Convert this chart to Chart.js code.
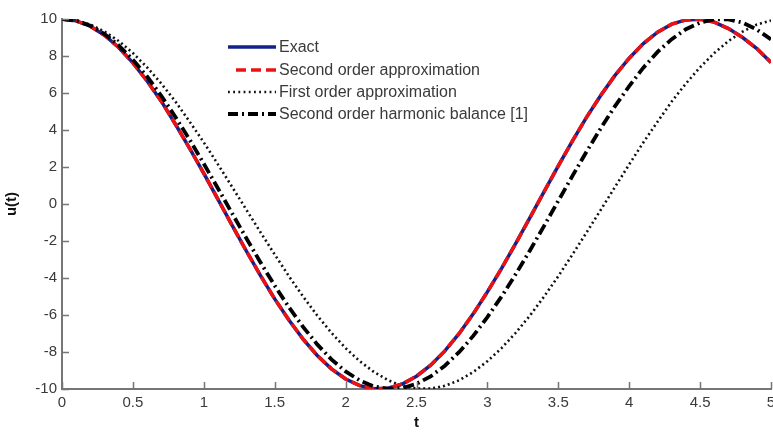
<!DOCTYPE html>
<html>
<head>
<meta charset="utf-8">
<script src="https://cdn.jsdelivr.net/npm/chart.js@4/dist/chart.umd.min.js"></script>
<style>
  html, body { margin: 0; padding: 0; background: #ffffff; }
  #wrap { width: 773px; height: 432px; position: relative; }
</style>
</head>
<body>
<div id="wrap"><canvas id="c" width="773" height="432"></canvas></div>
<script>
// ---- data ----
const tValues = [0,0.1,0.2,0.3,0.4,0.5,0.6,0.7,0.8,0.9,1,1.1,1.2,1.3,1.4,1.5,1.6,1.7,1.8,1.9,2,2.1,2.2,2.3,2.4,2.5,2.6,2.7,2.8,2.9,3,3.1,3.2,3.3,3.4,3.5,3.6,3.7,3.8,3.9,4,4.1,4.2,4.3,4.4,4.5,4.6,4.7,4.8,4.9,5];

const exactValues = [10,9.90,9.61,9.12,8.46,7.63,6.65,5.56,4.31,3.01,1.65,0.25,-1.16,-2.54,-3.87,-5.13,-6.27,-7.30,-8.19,-8.91,-9.46,-9.82,-9.99,-9.96,-9.73,-9.31,-8.71,-7.94,-7.01,-5.94,-4.75,-3.48,-2.13,-0.74,0.67,2.06,3.41,4.70,5.88,6.95,7.88,8.67,9.29,9.72,9.95,9.99,9.83,9.48,9.00,8.40,7.65];

const secondOrderValues = [10,9.90,9.61,9.12,8.46,7.63,6.65,5.56,4.31,3.01,1.65,0.25,-1.16,-2.54,-3.87,-5.13,-6.27,-7.30,-8.19,-8.91,-9.46,-9.82,-9.99,-9.96,-9.73,-9.31,-8.71,-7.94,-7.01,-5.94,-4.75,-3.48,-2.13,-0.74,0.67,2.06,3.41,4.70,5.88,6.95,7.88,8.67,9.29,9.72,9.95,9.99,9.83,9.48,9.00,8.40,7.65];

const firstOrderValues = [10,9.92,9.70,9.32,8.81,8.16,7.39,6.51,5.54,4.45,3.33,2.14,0.92,-0.31,-1.53,-2.73,-3.90,-5.00,-6.03,-6.96,-7.79,-8.50,-9.08,-9.53,-9.83,-9.98,-9.98,-9.83,-9.53,-9.08,-8.50,-7.79,-6.96,-6.03,-5.00,-3.90,-2.73,-1.53,-0.31,0.92,2.14,3.33,4.45,5.54,6.51,7.39,8.16,8.81,9.32,9.70,9.92];

const harmonicBalanceValues = [10,9.91,9.64,9.19,8.57,7.80,6.89,5.85,4.70,3.48,2.18,0.84,-0.51,-1.85,-3.16,-4.41,-5.58,-6.64,-7.59,-8.40,-9.05,-9.54,-9.86,-9.99,-9.95,-9.72,-9.32,-8.74,-8.01,-7.13,-6.11,-5.00,-3.79,-2.51,-1.18,0.17,1.52,2.84,4.10,5.29,6.37,7.37,8.22,8.91,9.45,9.80,9.98,9.98,9.80,9.43,8.90];

const seriesLabels = ["Exact", "Second order approximation", "First order approximation", "Second order harmonic balance [1]"];
const xTitle = "t";
const yTitle = "u(t)";

// ---- styling ----
const AXIS_COLOR = "#767676";
const TEXT_COLOR = "#3a3a3a";
const FONT = "'Liberation Sans', Arial, sans-serif";

function pts(vals) { return tValues.map((t, i) => ({ x: t, y: vals[i] })); }
function fmt(v) { return String(Math.round(v * 100) / 100); }

const inwardTicks = {
  id: 'inwardTicks',
  afterDatasetsDraw(chart) {
    const { ctx, chartArea, scales: { x, y } } = chart;
    ctx.save();
    ctx.strokeStyle = AXIS_COLOR;
    ctx.lineWidth = 1.5;
    ctx.beginPath();
    x.ticks.forEach(tk => {
      const px = Math.round(x.getPixelForValue(tk.value)) + 0.5;
      ctx.moveTo(px, chartArea.bottom);
      ctx.lineTo(px, chartArea.bottom - 7);
    });
    y.ticks.forEach(tk => {
      const py = Math.round(y.getPixelForValue(tk.value)) + 0.5;
      ctx.moveTo(chartArea.left, py);
      ctx.lineTo(chartArea.left + 7, py);
    });
    ctx.stroke();
    ctx.restore();
  }
};

const customLegend = {
  id: 'customLegend',
  afterDraw(chart) {
    const { ctx } = chart;
    const x0 = 228, x1 = 276, tx = 279;
    const rows = [47, 70, 92, 114];
    ctx.save();
    chart.data.datasets.forEach((ds, i) => {
      const yy = rows[i];
      ctx.strokeStyle = ds.borderColor;
      ctx.lineWidth = ds.borderWidth;
      ctx.setLineDash(ds.legendDash || ds.borderDash || []);
      ctx.lineCap = 'butt';
      ctx.beginPath();
      ctx.moveTo(x0 + (ds.legendOffset || 0), yy);
      ctx.lineTo(x1, yy);
      ctx.stroke();
      ctx.setLineDash([]);
      ctx.fillStyle = TEXT_COLOR;
      ctx.font = "16px " + FONT;
      ctx.textBaseline = 'middle';
      ctx.textAlign = 'left';
      ctx.fillText(ds.label, tx, yy + 1);
    });
    ctx.restore();
  }
};

new Chart(document.getElementById('c'), {
  type: 'line',
  data: {
    datasets: [
      { label: seriesLabels[0], data: pts(exactValues), borderColor: '#14208c', borderWidth: 3.5, pointRadius: 0, order: 2, fill: false },
      { label: seriesLabels[1], data: pts(secondOrderValues), borderColor: '#ee1111', borderWidth: 3.5, borderDash: [10, 4], legendDash: [10, 5], legendOffset: 8, pointRadius: 0, order: 1, fill: false },
      { label: seriesLabels[2], data: pts(firstOrderValues), borderColor: '#111111', borderWidth: 2.6, borderDash: [2, 3], legendDash: [1.8, 3.4], pointRadius: 0, order: 3, fill: false },
      { label: seriesLabels[3], data: pts(harmonicBalanceValues), borderColor: '#000000', borderWidth: 3.8, borderDash: [11, 4, 2, 4], legendDash: [10, 4, 2, 4], pointRadius: 0, order: 0, fill: false }
    ]
  },
  options: {
    responsive: false,
    animation: false,
    events: [],
    layout: { padding: { top: 19, right: 2, left: 0, bottom: 0 } },
    plugins: { legend: { display: false }, tooltip: { enabled: false } },
    scales: {
      x: {
        type: 'linear', min: 0, max: 5,
        grid: { display: false, drawTicks: false },
        border: { display: true, color: AXIS_COLOR, width: 2 },
        ticks: { stepSize: 0.5, padding: 5, color: TEXT_COLOR, font: { family: FONT, size: 15 }, maxRotation: 0, autoSkip: false, callback: v => fmt(v) },
        title: { display: true, text: xTitle, color: '#111', font: { family: FONT, size: 15, weight: 'bold' }, padding: { top: 0, bottom: 0 } },
        afterFit(s) { s.height = 43; s.paddingLeft = 0; s.paddingRight = 0; }
      },
      y: {
        type: 'linear', min: -10, max: 10,
        grid: { display: false, drawTicks: false },
        border: { display: true, color: AXIS_COLOR, width: 2 },
        ticks: { stepSize: 2, padding: 5, color: TEXT_COLOR, font: { family: FONT, size: 15 }, autoSkip: false, callback: v => fmt(v) },
        title: { display: true, text: yTitle, color: '#111', font: { family: FONT, size: 15, weight: 'bold' }, padding: { top: 3, bottom: 0 } },
        afterFit(s) { s.width = 62; s.paddingTop = 0; s.paddingBottom = 0; }
      }
    }
  },
  plugins: [inwardTicks, customLegend]
});
</script>
</body>
</html>
